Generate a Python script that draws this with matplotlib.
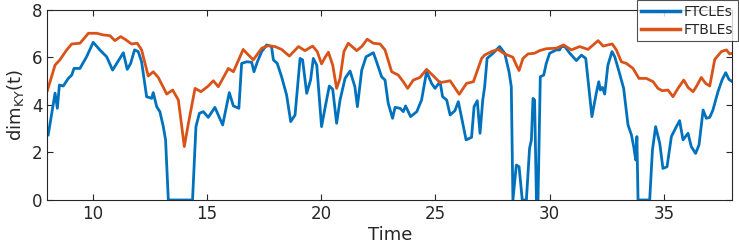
import numpy as np
import matplotlib
matplotlib.use('Agg')
import matplotlib.pyplot as plt

# FTCLEs (blue)
t_cle = [8.04, 8.34, 8.44, 8.53, 8.7, 8.92, 9.07, 9.17, 9.43, 9.72, 10.01, 10.3, 10.6,
         10.86, 11.04, 11.33, 11.5, 11.65, 11.82, 11.98, 12.13, 12.35, 12.57, 12.64, 12.79,
         12.93, 13.08, 13.18, 13.3, 14.36, 14.51, 14.66, 14.83, 15.05, 15.34, 15.68, 15.97,
         16.15, 16.39, 16.51, 16.73, 16.95, 17.05, 17.2, 17.39, 17.61, 17.82, 17.9, 18.07,
         18.26, 18.48, 18.66, 18.85, 18.96, 19.07, 19.18, 19.36, 19.53, 19.65, 19.8, 20.01,
         20.16, 20.35, 20.5, 20.67, 20.82, 21.04, 21.26, 21.47, 21.58, 21.77, 21.96, 22.28,
         22.42, 22.64, 22.79, 22.93, 23.12, 23.23, 23.45, 23.59, 23.69, 23.91, 24.18, 24.39,
         24.61, 24.83, 24.98, 25.2, 25.31, 25.49, 25.64, 25.85, 26.0, 26.15, 26.34, 26.58,
         26.69, 26.83, 26.95, 27.07, 27.15, 27.26, 27.52, 27.81, 28.03, 28.22, 28.32, 28.39,
         28.54, 28.66, 28.8, 28.98, 29.12, 29.2, 29.27, 29.34, 29.42, 29.49, 29.59, 29.74,
         29.85, 30.0, 30.29, 30.44, 30.51, 30.66, 30.88, 31.17, 31.39, 31.58, 31.68, 31.85,
         32.04, 32.15, 32.22, 32.31, 32.41, 32.55, 32.73, 32.85, 33.04, 33.24, 33.43, 33.58,
         33.68, 33.77, 33.82, 33.87, 34.38, 34.5, 34.64, 34.82, 34.96, 35.14, 35.33, 35.55,
         35.69, 35.84, 36.06, 36.2, 36.39, 36.54, 36.72, 36.86, 37.01, 37.15, 37.37, 37.56,
         37.71, 37.85, 38.0]
d_cle = [2.74, 4.5, 3.86, 4.84, 4.8, 5.12, 5.26, 5.54, 5.54, 6.03, 6.64, 6.32, 6.03,
         5.47, 5.75, 6.2, 5.5, 5.75, 6.32, 6.25, 5.82, 4.35, 4.28, 4.52, 3.93,
         3.72, 3.09, 2.53, 0.0, 0.0, 3.09, 3.65, 3.72, 3.48, 3.9, 3.16, 4.52,
         3.96, 3.86, 5.75, 5.82, 5.8, 5.4, 5.82, 6.25, 6.53, 6.46, 5.9, 5.75,
         5.19, 4.42, 3.3, 3.58, 4.77, 5.96, 5.9, 4.49, 5.05, 5.96, 5.68, 3.09,
         3.86, 4.8, 4.66, 3.23, 4.21, 5.12, 5.43, 4.77, 3.93, 5.47, 6.03, 6.2,
         5.82, 5.19, 5.05, 4.07, 3.44, 3.9, 3.86, 3.72, 3.96, 3.51, 3.72, 4.21,
         5.4, 4.91, 4.7, 4.98, 4.35, 4.21, 3.58, 3.76, 4.14, 3.44, 2.53, 2.64,
         3.93, 4.18, 2.81, 4.21, 4.74, 5.96, 6.18, 6.46, 6.18, 5.4, 4.77, 0.0,
         1.47, 1.4, 0.0, 0.0, 2.18, 2.53, 4.28, 4.21, 0.0, 0.0, 5.19, 5.26,
         5.75, 6.18, 6.32, 6.32, 6.46, 6.46, 6.18, 5.87, 6.1, 5.96, 5.05, 3.51,
         4.49, 4.98, 4.63, 4.74, 4.46, 5.68, 6.25, 6.03, 5.4, 4.7, 3.16, 2.74,
         2.25, 1.68, 2.67, 0.0, 0.0, 2.1, 3.09, 2.39, 1.33, 1.4, 2.67, 3.09,
         3.34, 2.53, 2.81, 2.25, 1.96, 2.32, 3.79, 3.44, 3.48, 3.79, 4.56, 5.08,
         5.36, 5.08, 4.98]

# FTBLEs (orange)
t_ble = [8.0, 8.34, 8.55, 8.85, 9.07, 9.43, 9.8, 10.16, 10.45, 10.74, 10.96, 11.21, 11.4,
         11.69, 11.94, 12.13, 12.42, 12.64, 12.86, 13.23, 13.49, 13.74, 14.0, 14.18, 14.47,
         14.73, 15.05, 15.27, 15.49, 15.93, 16.15, 16.58, 16.73, 17.02, 17.39, 17.68, 17.97,
         18.26, 18.6, 19.0, 19.28, 19.62, 19.82, 20.01, 20.16, 20.31, 20.5, 20.67, 20.82,
         20.99, 21.18, 21.55, 21.77, 22.01, 22.28, 22.57, 22.79, 23.08, 23.37, 23.59, 23.78,
         24.03, 24.32, 24.61, 24.91, 25.2, 25.42, 25.64, 26.04, 26.36, 26.66, 27.02, 27.15,
         27.45, 27.74, 28.03, 28.39, 28.54, 28.66, 28.83, 29.05, 29.34, 29.56, 29.85, 30.29,
         30.61, 30.95, 31.31, 31.68, 32.12, 32.34, 32.55, 32.74, 32.92, 33.14, 33.36, 33.65,
         33.91, 34.23, 34.53, 34.74, 34.93, 35.18, 35.4, 35.62, 35.87, 36.06, 36.28, 36.42,
         36.64, 36.83, 37.01, 37.23, 37.52, 37.74, 37.88, 38.0]
d_ble = [4.6, 5.68, 5.9, 6.32, 6.57, 6.6, 7.02, 7.02, 6.95, 6.92, 6.71, 6.88, 6.77,
         6.57, 6.6, 6.32, 5.22, 5.4, 5.16, 4.46, 4.63, 4.21, 2.25, 3.23, 4.7,
         4.56, 4.8, 5.02, 4.77, 5.54, 5.4, 6.34, 6.18, 5.9, 6.39, 6.5, 6.46,
         6.34, 6.06, 6.46, 6.29, 6.48, 6.25, 5.73, 6.0, 6.22, 5.68, 4.7, 5.12,
         6.25, 6.6, 6.29, 6.46, 6.77, 6.6, 6.57, 6.32, 5.4, 5.26, 4.98, 4.7,
         5.05, 5.16, 5.5, 5.22, 4.94, 4.98, 5.02, 4.45, 4.91, 4.98, 5.96, 6.1,
         6.25, 6.34, 6.15, 6.01, 5.68, 5.45, 5.96, 6.15, 6.18, 6.29, 6.37, 6.39,
         6.53, 6.32, 6.46, 6.34, 6.71, 6.48, 6.53, 6.57, 6.32, 5.82, 5.75, 5.54,
         5.12, 5.12, 4.98, 4.7, 4.6, 4.63, 4.35, 4.7, 5.05, 4.74, 4.56, 4.77,
         5.16, 4.91, 4.8, 5.92, 6.25, 6.32, 6.15, 6.18]

xticks = [10, 15, 20, 25, 30, 35]
yticks = [0, 2, 4, 6, 8]

dark = '#262626'
plt.rcParams['font.family'] = 'DejaVu Sans'

fig = plt.figure(figsize=(7.39, 2.45), dpi=100)
ax = fig.add_axes([0.064, 0.1837, 0.927, 0.7755])
l1, = ax.plot(t_cle, d_cle, color='#0072BD', lw=2, label='FTCLEs')
l2, = ax.plot(t_ble, d_ble, color='#D95319', lw=2, label='FTBLEs')

ax.set_xlim(8, 38)
ax.set_ylim(0, 8)
ax.set_xticks(xticks)
ax.set_yticks(yticks)
ax.tick_params(direction='in', top=True, right=True, labelsize=12, colors=dark,
               length=4, width=0.8)
for s in ax.spines.values():
    s.set_color(dark)
    s.set_linewidth(0.8)
ax.set_xlabel('Time', fontsize=13, color=dark, labelpad=2)
ax.set_ylabel('dim$_{\\mathrm{KY}}$(t)', fontsize=13, color=dark, labelpad=4)

leg = fig.legend(handles=[l1, l2], loc='upper right', bbox_to_anchor=(0.998, 0.998),
                 fontsize=10, frameon=True, fancybox=False, edgecolor=dark,
                 handlelength=2.8, handletextpad=0.3, borderpad=0.3,
                 labelspacing=0.3, borderaxespad=0.0)
leg.get_frame().set_linewidth(0.8)
for line in leg.get_lines():
    line.set_linewidth(2.5)
for txt in leg.get_texts():
    txt.set_color(dark)

fig.savefig('out.png', dpi=100)
